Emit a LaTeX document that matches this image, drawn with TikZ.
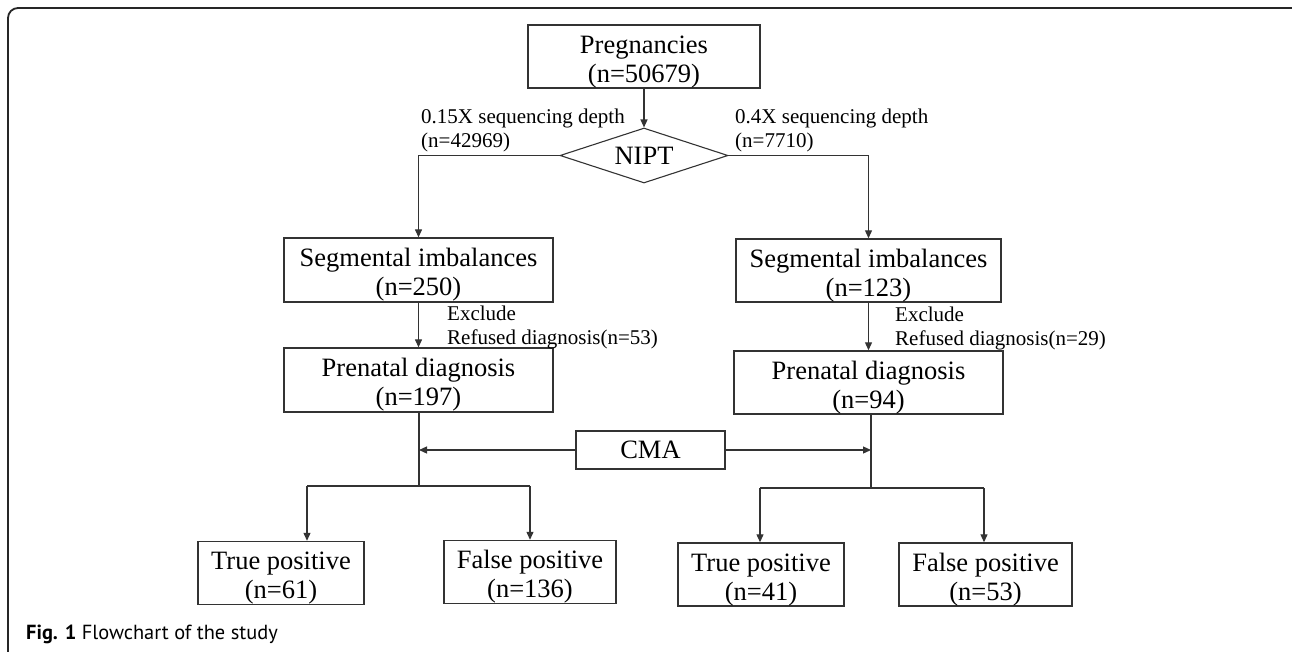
\documentclass[tikz,border=0pt]{standalone}
\usepackage{fontspec}
\setmainfont{Liberation Serif}
\newfontfamily\capfont{PT Sans}
\usetikzlibrary{arrows.meta,shapes.geometric}
\definecolor{ln}{HTML}{333333}
\newcommand\myTopStrut{\rule{0pt}{28.5pt}}
\tikzset{
  box/.style={draw=ln,line width=1.3pt,inner sep=0pt,align=center,
    font=\fontsize{26.5}{29}\selectfont},
  dia/.style={diamond,draw=ln,line width=1.1pt,inner sep=0pt,aspect=3,
    font=\fontsize{26.5}{29}\selectfont},
  lbl/.style={inner sep=0pt,anchor=base west,align=left,
    font=\fontsize{21}{23.5}\selectfont},
  conn/.style={draw=ln,line width=1.2pt},
  arr/.style={conn,-{Triangle[length=8pt,width=7pt]}},
}
\begin{document}
\begin{tikzpicture}[x=1pt,y=-1pt]
\useasboundingbox (0,0) rectangle (1292,651);
\begin{scope}
\clip (0,0) rectangle (1292,651);
\draw[line width=1.8pt,draw=black!85,rounded corners=10pt] (8,8) rectangle (1302,668);
\end{scope}
% nodes
\node[box,minimum width=232pt,minimum height=63pt] (preg) at (644,56.5) {\myTopStrut Pregnancies\\(n=50679)};
\node[dia,minimum width=168pt,minimum height=55pt] (nipt) at (644,155.5) {NIPT};
\node[box,minimum width=269pt,minimum height=64pt] (segL) at (418.5,270) {\myTopStrut Segmental imbalances\\(n=250)};
\node[box,minimum width=269pt,minimum height=64pt] (preL) at (418.5,380) {\myTopStrut Prenatal diagnosis\\(n=197)};
\node[box,minimum width=265pt,minimum height=63pt] (segR) at (868.5,270.5) {\myTopStrut Segmental imbalances\\(n=123)};
\node[box,minimum width=269pt,minimum height=63pt] (preR) at (868.5,382.5) {\myTopStrut Prenatal diagnosis\\(n=94)};
\node[box,minimum width=149pt,minimum height=38pt] (cma) at (650.5,450) {CMA};
\node[box,minimum width=166pt,minimum height=60pt] (tpL) at (281,573) {\myTopStrut True positive\\(n=61)};
\node[box,minimum width=172pt,minimum height=60pt] (fpL) at (530,572) {\myTopStrut False positive\\(n=136)};
\node[box,minimum width=166pt,minimum height=61pt] (tpR) at (761,574.5) {\myTopStrut True positive\\(n=41)};
\node[box,minimum width=173pt,minimum height=61pt] (fpR) at (985.5,574.5) {\myTopStrut False positive\\(n=53)};
% labels
\node[lbl] (l1) at (421,147) {0.15X sequencing depth\\(n=42969)};
\node[lbl] (l2) at (735,147) {0.4X sequencing depth\\(n=7710)};
\node[lbl] (l3) at (447,344) {Exclude\\Refused diagnosis(n=53)};
\node[lbl] (l4) at (895,345) {Exclude\\Refused diagnosis(n=29)};
\node[inner sep=0pt,anchor=base west,font=\capfont\fontsize{20.4}{22}\selectfont] (cap) at (26,639) {\textbf{Fig. 1} Flowchart of the study};
% coordinates
\coordinate (jL) at (419,486);
\coordinate (jR) at (871,488);
\coordinate (sL1) at (307,486);
\coordinate (sL2) at (530,486);
\coordinate (sR1) at (760,488);
\coordinate (sR2) at (984,488);
% connectors
\draw[arr] (preg) -- (nipt.north);
\draw[arr] (nipt.west) -| (segL.north);
\draw[arr] (nipt.east) -| (segR.north);
\draw[arr] (segL) -- (preL);
\draw[arr] (segR) -- (preR);
\draw[conn] (preL.south -| jL) -- (jL);
\draw[conn] (preR.south -| jR) -- (jR);
\draw[arr] (cma.west) -- (cma.west -| jL);
\draw[arr] (cma.east) -- (cma.east -| jR);
\draw[conn] (sL1) -- (sL2);
\draw[conn] (sR1) -- (sR2);
\draw[arr] (sL1) -- (sL1 |- tpL.north);
\draw[arr] (sL2) -- (sL2 |- fpL.north);
\draw[arr] (sR1) -- (sR1 |- tpR.north);
\draw[arr] (sR2) -- (sR2 |- fpR.north);
\end{tikzpicture}
\end{document}
